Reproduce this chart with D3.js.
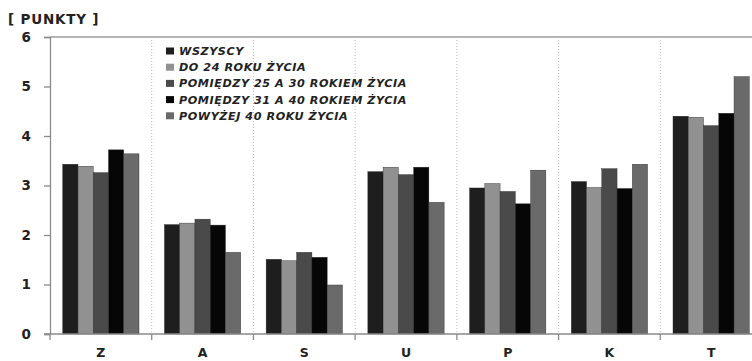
<!DOCTYPE html>
<html><head><meta charset="utf-8">
<script src="https://cdn.jsdelivr.net/npm/d3@7/dist/d3.min.js"></script>
<style>body{margin:0;background:#fff}svg{display:block}</style>
</head><body>
<svg id="c" width="752" height="361"></svg>
<script>
const categories = ["Z","A","S","U","P","K","T"];
const seriesNames = ["WSZYSCY","DO 24 ROKU ŻYCIA","POMIĘDZY 25 A 30 ROKIEM ŻYCIA","POMIĘDZY 31 A 40 ROKIEM ŻYCIA","POWYŻEJ 40 ROKU ŻYCIA"];
const wszyscy   = [3.43, 2.21, 1.51, 3.28, 2.95, 3.08, 4.40];
const do24      = [3.39, 2.24, 1.48, 3.37, 3.04, 2.96, 4.38];
const p25_30    = [3.26, 2.32, 1.65, 3.22, 2.88, 3.34, 4.21];
const p31_40    = [3.72, 2.20, 1.55, 3.37, 2.63, 2.94, 4.46];
const powyzej40 = [3.64, 1.65, 0.99, 2.66, 3.31, 3.43, 5.20];
const yTicks = [0,1,2,3,4,5,6];
const colors = ["#1e1e1e","#919191","#4a4a4a","#060606","#6a6a6a"];
const series = [wszyscy, do24, p25_30, p31_40, powyzej40];

const FONT = "DejaVu Sans";
const svg = d3.select("#c");
const x0 = d3.scaleBand().domain(categories).range([50, 762]).paddingInner(0.25).paddingOuter(0.125);
const x1 = d3.scaleBand().domain(d3.range(series.length)).range([0, x0.bandwidth()]);
const y = d3.scaleLinear().domain([0, 6]).range([334, 37]);
const step = x0.step();

// top line
svg.append("line").attr("x1", 50).attr("x2", 752).attr("y1", y(6)).attr("y2", y(6))
  .attr("stroke", "#b5b5b5").attr("stroke-width", 2);

// vertical dotted separators
const bounds = categories.slice(1).map(c => x0(c) - (step - x0.bandwidth()) / 2);
svg.selectAll(".sep").data(bounds).join("line")
  .attr("x1", d => d).attr("x2", d => d).attr("y1", y(6)).attr("y2", y(0))
  .attr("stroke", "#bdbdbd").attr("stroke-dasharray", "1,2").attr("stroke-width", 1);

// bars
const g = svg.append("g");
categories.forEach((c, ci) => {
  series.forEach((s, si) => {
    g.append("rect")
      .attr("x", x0(c) + x1(si)).attr("width", x1.bandwidth())
      .attr("y", y(s[ci])).attr("height", y(0) - y(s[ci]))
      .attr("fill", colors[si]).attr("stroke", "#2a2a2a").attr("stroke-width", 0.4);
  });
});

// y axis
const yAxis = d3.axisLeft(y).tickValues(yTicks).tickSize(6).tickPadding(13).tickFormat(d3.format("d"));
const ya = svg.append("g").attr("transform", "translate(50,0)").call(yAxis);
ya.select(".domain").attr("stroke", "#8a8a8a").attr("stroke-width", 1.3);
ya.selectAll(".tick line").attr("stroke", "#8a8a8a").attr("stroke-width", 1.3);
ya.selectAll("text").attr("font-family", FONT).attr("font-weight", 700).attr("font-size", 13.5).attr("fill", "#222");

// x baseline
svg.append("line").attr("x1", 44).attr("x2", 752).attr("y1", y(0)).attr("y2", y(0))
  .attr("stroke", "#8a8a8a").attr("stroke-width", 1.5);
svg.selectAll(".xt").data([50].concat(bounds)).join("line")
  .attr("x1", d => d).attr("x2", d => d).attr("y1", y(0)).attr("y2", y(0) + 6)
  .attr("stroke", "#8a8a8a").attr("stroke-width", 1.3);

// category labels
svg.selectAll(".cl").data(categories).join("text")
  .attr("x", d => x0(d) + x0.bandwidth() / 2).attr("y", 357)
  .attr("text-anchor", "middle").attr("font-family", FONT).attr("font-weight", 700)
  .attr("font-size", 12.5).attr("fill", "#222").text(d => d);

// y title
svg.append("text").attr("x", 8).attr("y", 24).attr("font-family", FONT)
  .attr("font-weight", 700).attr("font-size", 13.5).attr("letter-spacing", 0.8).attr("fill", "#222").text("[ PUNKTY ]");

// legend
const lg = svg.append("g");
seriesNames.forEach((n, i) => {
  const cy = 51 + i * 16.2;
  lg.append("rect").attr("x", 166).attr("y", cy - 3.5).attr("width", 8).attr("height", 7).attr("fill", colors[i]);
  lg.append("text").attr("x", 179).attr("y", cy + 4).attr("font-family", FONT)
    .attr("font-style", "italic").attr("font-weight", 700).attr("font-size", 11.2)
    .attr("letter-spacing", 0.55).attr("fill", "#222").text(n);
});
</script>
</body></html>
